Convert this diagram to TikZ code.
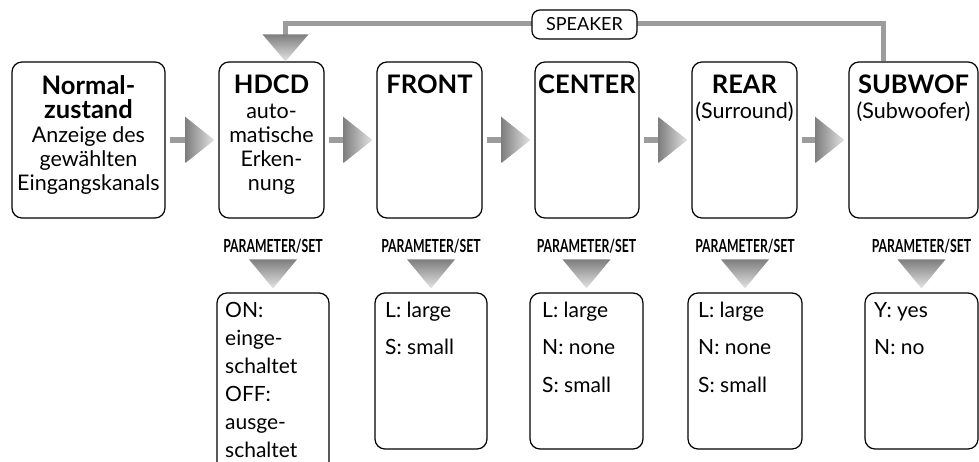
\documentclass[tikz,border=0pt]{standalone}
\usepackage{fontspec}
\setmainfont{Lato}
\usetikzlibrary{calc}
\definecolor{linegray}{HTML}{9C9C9C}
\definecolor{tridark}{HTML}{7E7E7E}
\definecolor{trilight}{HTML}{E4E4E4}
\newcommand{\flowarrow}[2]{%
  \draw[stem] ([xshift=4pt]#1.east) -- ([xshift=-32pt]#2.west);
  \path[left color=tridark, right color=trilight] ([xshift=-4pt]#2.west) -- ++(-29,-23) -- ++(0,46) -- cycle;
}
\newcommand{\paramarrow}[2]{%
  \path[top color=tridark, bottom color=trilight] ([yshift=4pt]#1.north) -- ++(-24,-29) -- ++(48,0) -- cycle;
  \node[param] (#2) at ([yshift=40pt]#1.north) {\scalebox{0.68}[1]{PARAMETER/SET}};
}
\begin{document}
\begin{tikzpicture}[x=1pt,y=-1pt,
  topbox/.style={draw, line width=1.2pt, rounded corners=10pt, inner sep=0pt, minimum height=156pt},
  botbox/.style={draw, line width=1.2pt, rounded corners=10pt, inner sep=0pt, minimum height=156pt},
  titletext/.style={font=\fontsize{25.5}{24.5}\selectfont\bfseries, align=center, anchor=base, inner sep=0pt},
  bodytext/.style={font=\fontsize{21.5}{24.3}\selectfont, align=center, anchor=base, inner sep=0pt},
  opttext/.style={font=\fontsize{21}{37.5}\selectfont, align=left, anchor=base west, inner sep=0pt},
  param/.style={font=\fontsize{18}{18}\selectfont\bfseries, anchor=base, inner sep=0pt},
  stem/.style={draw=linegray, line width=6pt},
  feedback/.style={draw=linegray, line width=5pt},
  speaker/.style={draw, fill=white, line width=1.2pt, rounded corners=8pt, inner sep=0pt,
    minimum width=105pt, minimum height=29pt, font=\fontsize{18}{18}\selectfont}
]
\useasboundingbox (0,0) rectangle (979,462);
\clip (0,0) rectangle (979,462);

% top boxes
\node[topbox, minimum width=153pt] (normal) at (88.5,140) {};
\node[topbox, minimum width=105pt] (hdcd) at (271.5,140) {};
\node[topbox, minimum width=105pt] (front) at (429.5,140) {};
\node[topbox, minimum width=104pt] (center) at (587,140) {};
\node[topbox, minimum width=105pt] (rear) at (744.5,140) {};
\node[topbox, minimum width=129pt] (sub) at (913.5,140) {};

% top box texts (base anchor = last line)
\node[titletext] (normalT) at (88.5,119) {Normal-\\zustand};
\node[bodytext] (normalB) at (88.5,191) {Anzeige des\\gewählten\\Eingangskanals};
\node[titletext] (hdcdT) at (271.5,94) {HDCD};
\node[bodytext] (hdcdB) at (271.5,191) {auto-\\matische\\Erken-\\nung};
\node[titletext] (frontT) at (429.5,94) {FRONT};
\node[titletext] (centerT) at (587,94) {CENTER};
\node[titletext] (rearT) at (744.5,94) {REAR};
\node[bodytext] (rearB) at (744.5,119) {(Surround)};
\node[titletext] (subT) at (913.5,94) {SUBWOF};
\node[bodytext] (subB) at (913.5,119) {(Subwoofer)};

% horizontal flow arrows
\flowarrow{normal}{hdcd}
\flowarrow{hdcd}{front}
\flowarrow{front}{center}
\flowarrow{center}{rear}
\flowarrow{rear}{sub}

% feedback line
\coordinate (fbstart) at ([xshift=-30.5pt]sub.north);
\coordinate (fbend) at ([xshift=14pt]hdcd.north);
\draw[feedback] (fbstart) -- ++(0,-37.5) -| ($(fbend)+(0,-26)$);
\path[top color=tridark, bottom color=trilight] (fbend) -- ++(-23,-27) -- ++(46,0) -- cycle;
\node[speaker] (spk) at (584.5,24.5) {SPEAKER};

% bottom boxes
\node[botbox, minimum width=112pt, minimum height=182pt] (hdcdO) at (273,384) {};
\node[botbox, minimum width=112pt] (frontO) at (431,371) {};
\node[botbox, minimum width=113pt] (centerO) at (586.5,371) {};
\node[botbox, minimum width=114pt] (rearO) at (745,371) {};
\node[botbox, minimum width=113pt] (subO) at (921.5,371) {};

% parameter arrows
\paramarrow{hdcdO}{p1}
\paramarrow{frontO}{p2}
\paramarrow{centerO}{p3}
\paramarrow{rearO}{p4}
\paramarrow{subO}{p5}

% option texts (base anchor = last line)
\node[opttext, font=\fontsize{21}{28}\selectfont] (hdcdL) at (225,457) {ON:\\einge-\\schaltet\\OFF:\\ausge-\\schaltet};
\node[opttext] (frontL) at (385,354.5) {L: large\\S: small};
\node[opttext] (centerL) at (542,392) {L: large\\N: none\\S: small};
\node[opttext] (rearL) at (698,392) {L: large\\N: none\\S: small};
\node[opttext] (subL) at (874,354.5) {Y: yes\\N: no};
\end{tikzpicture}
\end{document}
